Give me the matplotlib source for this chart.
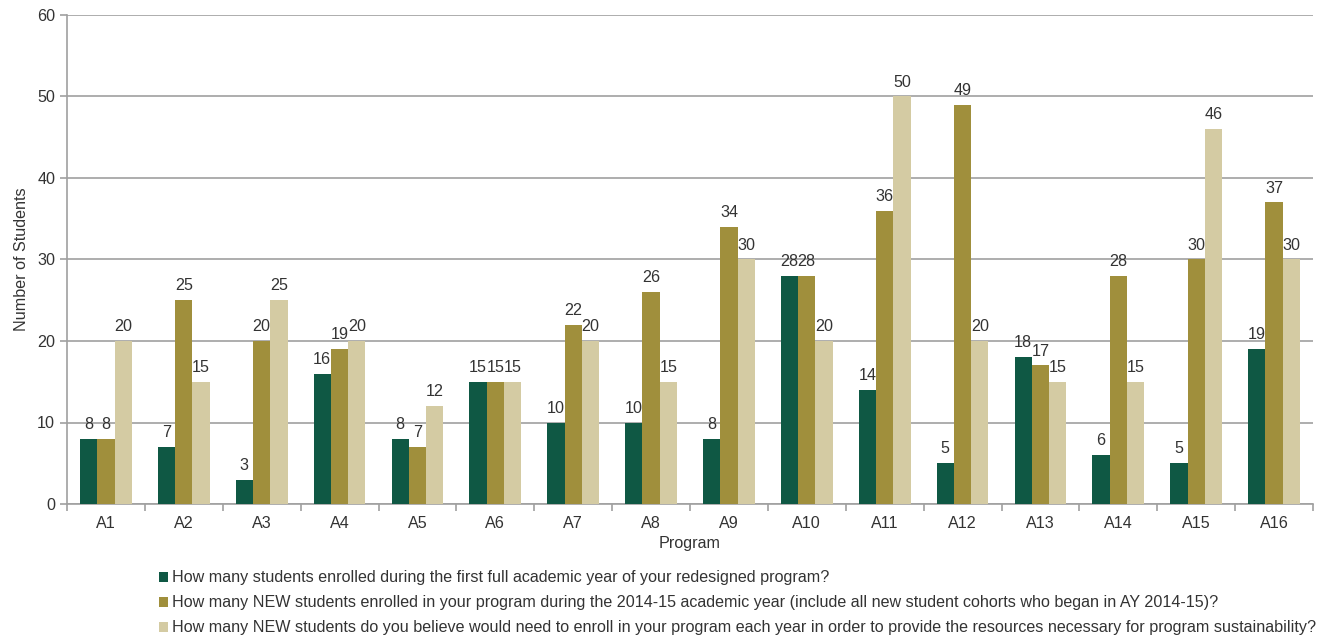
import matplotlib
matplotlib.use("Agg")
import matplotlib.pyplot as plt
import numpy as np
from matplotlib.patches import Patch

plt.rcParams['font.family'] = ['Liberation Sans', 'DejaVu Sans']

programs = ["A1", "A2", "A3", "A4", "A5", "A6", "A7", "A8", "A9", "A10",
            "A11", "A12", "A13", "A14", "A15", "A16"]
first_year = [8, 7, 3, 16, 8, 15, 10, 10, 8, 28, 14, 5, 18, 6, 5, 19]
new_2014 = [8, 25, 20, 19, 7, 15, 22, 26, 34, 28, 36, 49, 17, 28, 30, 37]
needed = [20, 15, 25, 20, 12, 15, 20, 15, 30, 20, 50, 20, 15, 15, 46, 30]
series_labels = [
    "How many students enrolled during the first full academic year of your redesigned program?",
    "How many NEW students enrolled in your program during the 2014-15 academic year (include all new student cohorts who began in AY 2014-15)?",
    "How many NEW students do you believe would need to enroll in your program each year in order to provide the resources necessary for program sustainability?",
]
colors = ["#0f5844", "#a08f3c", "#d4cba3"]

fs = 11.6
fig = plt.figure(figsize=(13.31, 6.39), dpi=100)
ax = fig.add_axes([67/1331, 1-504/639, (1313-67)/1331, (504-15)/639])

x = np.arange(len(programs))
w = 0.222
txtc = "#333333"
for i, (vals, c) in enumerate(zip([first_year, new_2014, needed], colors)):
    pos = x + (i - 1) * w
    ax.bar(pos, vals, width=w, color=c, zorder=3)
    for p, v in zip(pos, vals):
        ax.annotate(str(v), (p, v), xytext=(0, 5), textcoords="offset points",
                    ha="center", va="bottom", fontsize=fs, color=txtc)

ax.set_xlim(-0.5, len(programs) - 0.5)
ax.set_ylim(0, 60)
ax.set_yticks(range(0, 61, 10))
ax.yaxis.grid(True, color="#a0a0a0", linewidth=1.2, zorder=0)
ax.set_axisbelow(True)
for s in ["top", "right"]:
    ax.spines[s].set_visible(False)
ax.spines["left"].set_color("#a0a0a0")
ax.spines["bottom"].set_color("#a0a0a0")
ax.spines["left"].set_linewidth(1.2)
ax.spines["bottom"].set_linewidth(1.2)

ax.set_xticks(x)
ax.set_xticklabels(programs)
ax.set_xticks(np.arange(-0.5, len(programs), 1), minor=True)
ax.tick_params(axis="x", which="major", length=0, labelsize=fs, labelcolor=txtc, pad=9)
ax.tick_params(axis="x", which="minor", length=5, color="#a0a0a0", width=1.2)
ax.tick_params(axis="y", length=5, color="#a0a0a0", width=1.2, labelsize=fs, labelcolor=txtc)

ax.set_ylabel("Number of Students", fontsize=fs, color=txtc, labelpad=6)
ax.set_xlabel("Program", fontsize=fs, color=txtc, labelpad=3)

handles = [Patch(facecolor=c, edgecolor="none") for c in colors]
fig.legend(handles, series_labels, loc="upper left", bbox_to_anchor=(153/1331, 1-564/639),
           frameon=False, fontsize=fs, handlelength=0.55, handleheight=0.55,
           handletextpad=0.25, labelspacing=0.62, borderaxespad=0, labelcolor=txtc)

fig.savefig("out.png", dpi=100)
